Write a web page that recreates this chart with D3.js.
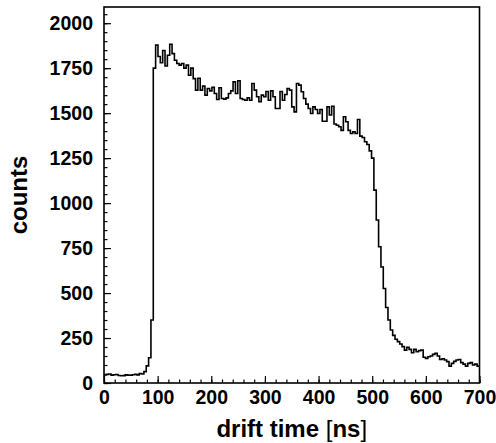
<!DOCTYPE html>
<meta charset="utf-8">
<style>
body {
  margin: 0;
  background: #fff;
  font-family: 'Liberation Sans', Arial, sans-serif;
}
.frame {
  fill: none;
  stroke: #000;
  stroke-width: 1.6;
}
.hist {
  fill: none;
  stroke: #000;
  stroke-width: 1.6;
}
.axis-title {
  font-size: 24px;
  font-weight: bold;
}
</style>
<body>
<svg id="chart" width="496" height="443"></svg>
<script src="https://d3js.org/d3.v7.min.js"></script>
<script>

// drift time histogram, 160 bins of 4.375 ns from 0 to 700 ns
var binWidth = 4.375;
var counts = [
  45, 48, 50, 44, 46, 47, 42, 40, 41, 45, 44, 43, 46, 48, 45, 52,
  50, 63, 95, 140, 350,
  1750, 1878, 1815, 1780, 1848, 1762, 1822, 1883, 1831, 1794,
  1776, 1767, 1776, 1750, 1767, 1711, 1750, 1692, 1628, 1694,
  1628, 1650, 1600, 1637, 1624, 1643, 1609, 1576, 1641, 1581,
  1578, 1585, 1609, 1624, 1674, 1609, 1680, 1581, 1576, 1572,
  1585, 1572, 1665, 1628, 1591, 1563, 1600, 1591, 1620, 1572,
  1624, 1591, 1526, 1526, 1620, 1572, 1604, 1637, 1628, 1535,
  1507, 1665, 1656, 1619, 1581, 1550, 1526, 1498, 1535, 1520,
  1498, 1520, 1455, 1455, 1535, 1490, 1538, 1440, 1433, 1424,
  1404, 1480, 1452, 1404, 1387, 1396, 1387, 1465, 1372, 1365,
  1341, 1326, 1290, 1250, 1072, 906, 757, 645, 525, 420,
  350, 295, 265, 243, 230, 217, 202, 183, 198, 187,
  168, 187, 174, 180, 183, 143, 137, 146, 150, 159,
  165, 150, 131, 135, 128, 119, 94, 109, 120, 128,
  131, 113, 105, 94, 109, 113, 100, 105, 94
];

var xTicks = [0, 100, 200, 300, 400, 500, 600, 700];
var yTicks = [0, 250, 500, 750, 1000, 1250, 1500, 1750, 2000];

var margin = {top: 7, right: 16.5, bottom: 60, left: 104};
var width = 496 - margin.left - margin.right,
    height = 443 - margin.top - margin.bottom;

var svg = d3.select("#chart");
var g = svg.append("g")
    .attr("transform", "translate(" + margin.left + "," + margin.top + ")");

var x = d3.scaleLinear().domain([0, 700]).range([0, width]);
var y = d3.scaleLinear().domain([0, 2090]).range([height, 0]);

// minor ticks
g.append("g")
    .attr("transform", "translate(0," + height + ")")
    .call(d3.axisBottom(x).tickValues(d3.range(0, 701, 20)).tickSize(-3.5).tickFormat(""));
g.append("g")
    .call(d3.axisLeft(y).tickValues(d3.range(0, 2051, 50)).tickSize(-3.5).tickFormat(""));

// major ticks + labels
var xAxis = g.append("g")
    .attr("transform", "translate(0," + height + ")")
    .call(d3.axisBottom(x).tickValues(xTicks).tickSize(-7).tickPadding(7).tickFormat(d3.format("d")));
var yAxis = g.append("g")
    .call(d3.axisLeft(y).tickValues(yTicks).tickSize(-7).tickPadding(11).tickFormat(d3.format("d")));

g.selectAll(".domain").remove();
g.selectAll(".tick line").attr("stroke-width", 1.2);
[xAxis, yAxis].forEach(function(a) {
  a.attr("font-size", 19.5)
   .attr("font-weight", "bold")
   .attr("font-family", "'Liberation Sans', Arial, sans-serif");
  a.selectAll("text").attr("fill", "#000");
});

// histogram outline
var pts = [];
counts.forEach(function(c, i) {
  pts.push([i * binWidth, c]);
  pts.push([(i + 1) * binWidth, c]);
});
var line = d3.line()
    .x(function(d) { return x(d[0]); })
    .y(function(d) { return y(d[1]); });

g.append("path")
    .attr("class", "hist")
    .attr("d", line(pts));

g.append("rect")
    .attr("class", "frame")
    .attr("width", width)
    .attr("height", height);

// axis titles
var xt = g.append("text")
    .attr("class", "axis-title")
    .attr("text-anchor", "middle")
    .attr("x", width / 2)
    .attr("y", height + 54);
xt.append("tspan").text("drift time ");
xt.append("tspan").attr("font-weight", "normal").text("[");
xt.append("tspan").text("ns");
xt.append("tspan").attr("font-weight", "normal").text("]");

svg.append("text")
    .attr("class", "axis-title")
    .attr("text-anchor", "middle")
    .attr("transform", "translate(27," + (margin.top + height / 2) + ") rotate(-90)")
    .text("counts");

</script>
</body>
